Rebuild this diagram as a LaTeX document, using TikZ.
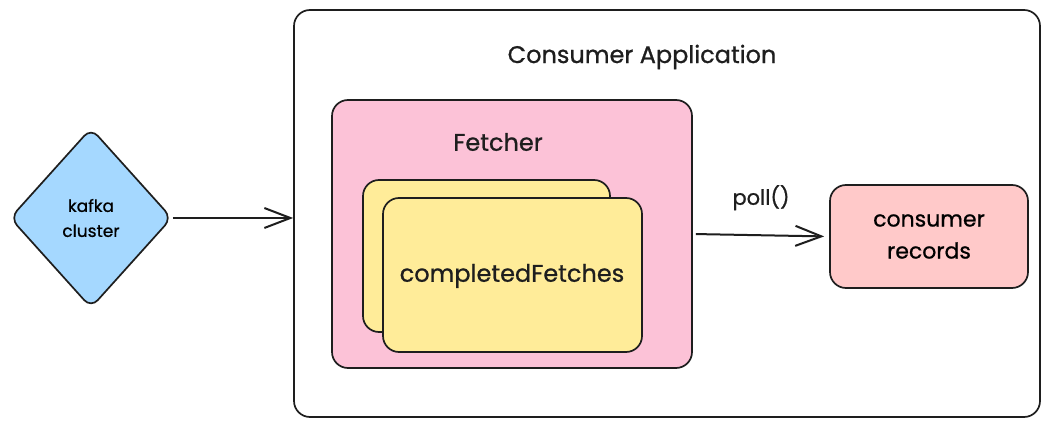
\documentclass[tikz,border=0pt]{standalone}
\usepackage{fontspec}
\setmainfont{Poppins}[FakeBold=0.8]
\usetikzlibrary{arrows.meta}
\usetikzlibrary{positioning}
\usetikzlibrary{shapes.geometric}
\definecolor{SkyBlue}{HTML}{A5D8FF}
\definecolor{SoftPink}{HTML}{FCC2D7}
\definecolor{PaleYellow}{HTML}{FFEC99}
\definecolor{LightSalmon}{HTML}{FFC9C9}
\definecolor{InkBlack}{HTML}{1E1E1E}

\begin{document}
\begin{tikzpicture}[x=1pt, y=-1pt,
    box/.style={draw=InkBlack, line width=1.7pt, rounded corners=16pt, inner sep=0pt},
    flow/.style={draw=InkBlack, line width=2pt, -{Straight Barb[length=26pt,width=20pt,line width=2pt]}},
    label/.style={text=InkBlack, inner sep=0pt}]
  \useasboundingbox (0,0) rectangle (1049,427);

  % outer application box
  \node[box, fill=white, minimum width=746pt, minimum height=407pt] (app) at (667,213.5) {};
  \node[label, font=\fontsize{24}{27}\selectfont] (apptitle) at (642,57) {Consumer Application};

  % fetcher with its queue
  \node[box, fill=SoftPink, minimum width=360pt, minimum height=268pt] (fetcher) at (512,234) {};
  \node[label, font=\fontsize{24}{27}\selectfont] (fetchertitle) at (498,142) {Fetcher};

  \node[box, fill=PaleYellow, minimum width=247pt, minimum height=152pt] (queueback) at (486.5,256) {};
  \node[box, fill=PaleYellow, minimum width=259pt, minimum height=154pt] (queue) at (512.5,275) {};
  \node[label, font=\fontsize{24}{27}\selectfont] (queuetext) at (512,276) {completedFetches};

  % outside the application
  \node[box, diamond, rounded corners=10pt, fill=SkyBlue, minimum width=162pt, minimum height=180pt,
        align=center, font=\fontsize{17}{25}\selectfont] (kafka) at (91,218) {kafka\\cluster};

  \node[box, fill=LightSalmon, minimum width=198pt, minimum height=103pt,
        align=center, font=\fontsize{22}{32}\selectfont] (records) at (929,236.5) {consumer\\records};

  % connectors
  \draw[flow] (kafka.east) -- (kafka.east -| app.west);
  \draw[flow, shorten <=3pt, shorten >=5pt] (fetcher.east) -- (records.west)
    node[label, midway, above=24pt, font=\fontsize{21}{24}\selectfont] (polltext) {poll()};
\end{tikzpicture}
\end{document}
